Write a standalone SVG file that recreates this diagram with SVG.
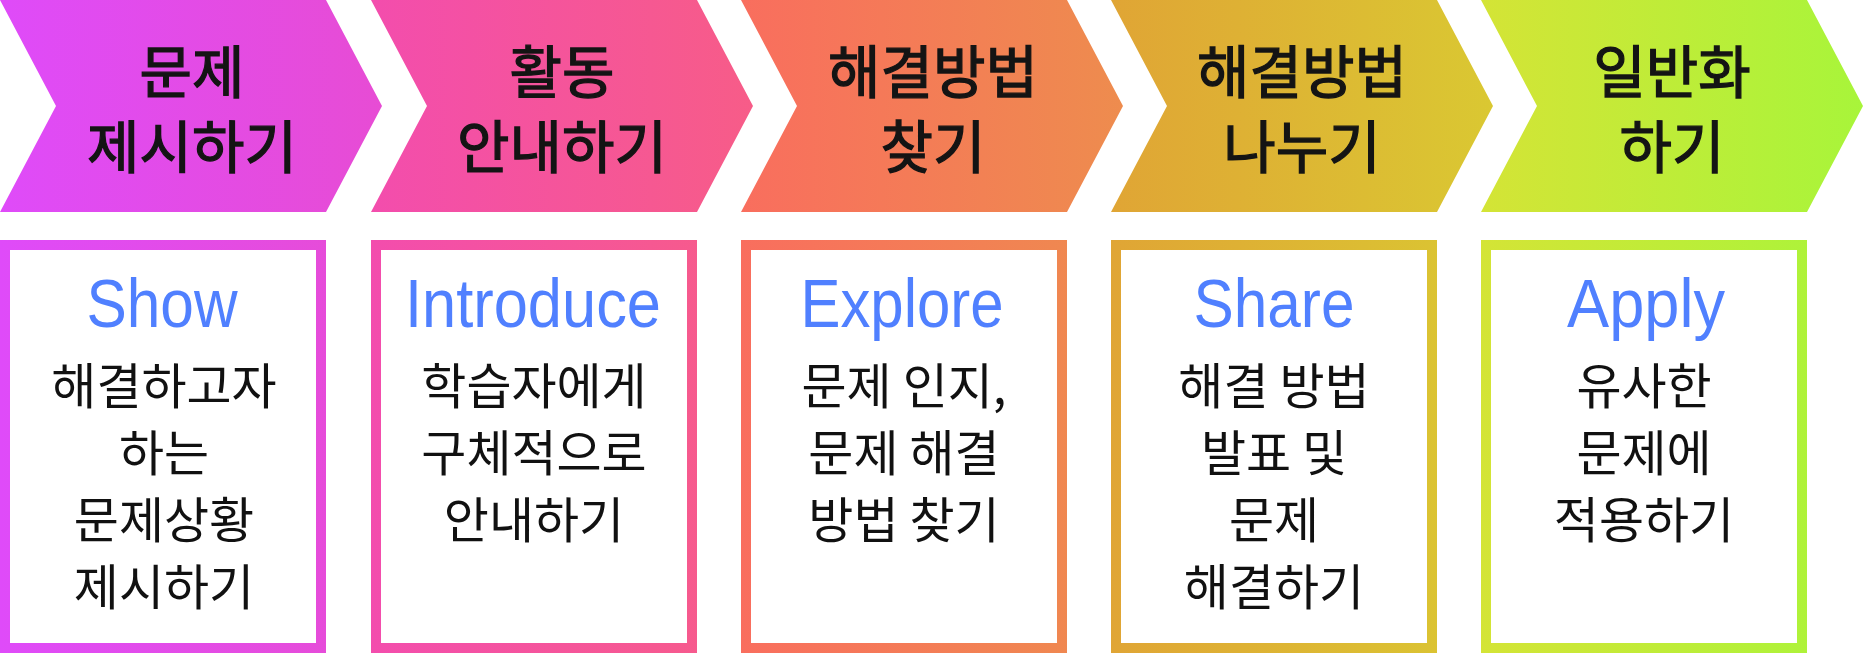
<svg xmlns="http://www.w3.org/2000/svg" width="1863" height="653" viewBox="0 0 1863 653">
<style>
.ttl{font-family:"Noto Sans CJK KR","Noto Sans",sans-serif;font-size:57px;font-weight:400;fill:#141414;stroke:#141414;stroke-width:1.3px;text-anchor:middle}
.en{font-family:"Liberation Sans",Arial,sans-serif;font-size:69px;fill:#5080FF;text-anchor:middle}
.bd{font-family:"Noto Sans CJK KR","Noto Sans",sans-serif;font-size:49px;fill:#111111;text-anchor:middle}
.box{fill:#FFFFFF;stroke-width:10}
</style>
<defs>
<linearGradient id="g1" gradientUnits="userSpaceOnUse" x1="0" y1="0" x2="382" y2="0"><stop offset="0" stop-color="#DF4BF9"/><stop offset="1" stop-color="#E74CD4"/></linearGradient>
<linearGradient id="g2" gradientUnits="userSpaceOnUse" x1="371" y1="0" x2="753" y2="0"><stop offset="0" stop-color="#F34DAD"/><stop offset="1" stop-color="#F75C88"/></linearGradient>
<linearGradient id="g3" gradientUnits="userSpaceOnUse" x1="741" y1="0" x2="1123" y2="0"><stop offset="0" stop-color="#F96E5E"/><stop offset="1" stop-color="#EE8C4E"/></linearGradient>
<linearGradient id="g4" gradientUnits="userSpaceOnUse" x1="1111" y1="0" x2="1493" y2="0"><stop offset="0" stop-color="#E0A535"/><stop offset="1" stop-color="#DAC832"/></linearGradient>
<linearGradient id="g5" gradientUnits="userSpaceOnUse" x1="1481" y1="0" x2="1863" y2="0"><stop offset="0" stop-color="#D4E436"/><stop offset="1" stop-color="#A8F53A"/></linearGradient>
</defs>
<rect width="1863" height="653" fill="#FFFFFF"/>
<g id="step1">
<polygon points="0,0 326,0 382,106 326,212 0,212 56,106" fill="url(#g1)"/>
<text class="ttl" x="192" y="93">문제</text>
<text class="ttl" x="192" y="168">제시하기</text>
<rect class="box" x="5" y="245" width="316" height="403" stroke="url(#g1)"/>
<text class="en" x="162" y="327" textLength="151" lengthAdjust="spacingAndGlyphs">Show</text>
<text class="bd" x="164" y="404">해결하고자</text>
<text class="bd" x="164" y="471">하는</text>
<text class="bd" x="164" y="538">문제상황</text>
<text class="bd" x="164" y="605">제시하기</text>
</g>
<g id="step2">
<polygon points="371,0 697,0 753,106 697,212 371,212 427,106" fill="url(#g2)"/>
<text class="ttl" x="562" y="93">활동</text>
<text class="ttl" x="562" y="168">안내하기</text>
<rect class="box" x="376" y="245" width="316" height="403" stroke="url(#g2)"/>
<text class="en" x="533" y="327" textLength="256" lengthAdjust="spacingAndGlyphs">Introduce</text>
<text class="bd" x="534" y="404">학습자에게</text>
<text class="bd" x="534" y="471">구체적으로</text>
<text class="bd" x="534" y="538">안내하기</text>
</g>
<g id="step3">
<polygon points="741,0 1067,0 1123,106 1067,212 741,212 797,106" fill="url(#g3)"/>
<text class="ttl" x="933" y="93">해결방법</text>
<text class="ttl" x="933" y="168">찾기</text>
<rect class="box" x="746" y="245" width="316" height="403" stroke="url(#g3)"/>
<text class="en" x="902" y="327" textLength="203" lengthAdjust="spacingAndGlyphs">Explore</text>
<text class="bd" x="904" y="404">문제 인지,</text>
<text class="bd" x="904" y="471">문제 해결</text>
<text class="bd" x="904" y="538">방법 찾기</text>
</g>
<g id="step4">
<polygon points="1111,0 1437,0 1493,106 1437,212 1111,212 1167,106" fill="url(#g4)"/>
<text class="ttl" x="1302" y="93">해결방법</text>
<text class="ttl" x="1302" y="168">나누기</text>
<rect class="box" x="1116" y="245" width="316" height="403" stroke="url(#g4)"/>
<text class="en" x="1274" y="327" textLength="161" lengthAdjust="spacingAndGlyphs">Share</text>
<text class="bd" x="1274" y="404">해결 방법</text>
<text class="bd" x="1274" y="471">발표 및</text>
<text class="bd" x="1274" y="538">문제</text>
<text class="bd" x="1274" y="605">해결하기</text>
</g>
<g id="step5">
<polygon points="1481,0 1807,0 1863,106 1807,212 1481,212 1537,106" fill="url(#g5)"/>
<text class="ttl" x="1672" y="93">일반화</text>
<text class="ttl" x="1672" y="168">하기</text>
<rect class="box" x="1486" y="245" width="316" height="403" stroke="url(#g5)"/>
<text class="en" x="1646" y="327" textLength="158" lengthAdjust="spacingAndGlyphs">Apply</text>
<text class="bd" x="1644" y="404">유사한</text>
<text class="bd" x="1644" y="471">문제에</text>
<text class="bd" x="1644" y="538">적용하기</text>
</g>
<g id="connectors"></g>
</svg>
